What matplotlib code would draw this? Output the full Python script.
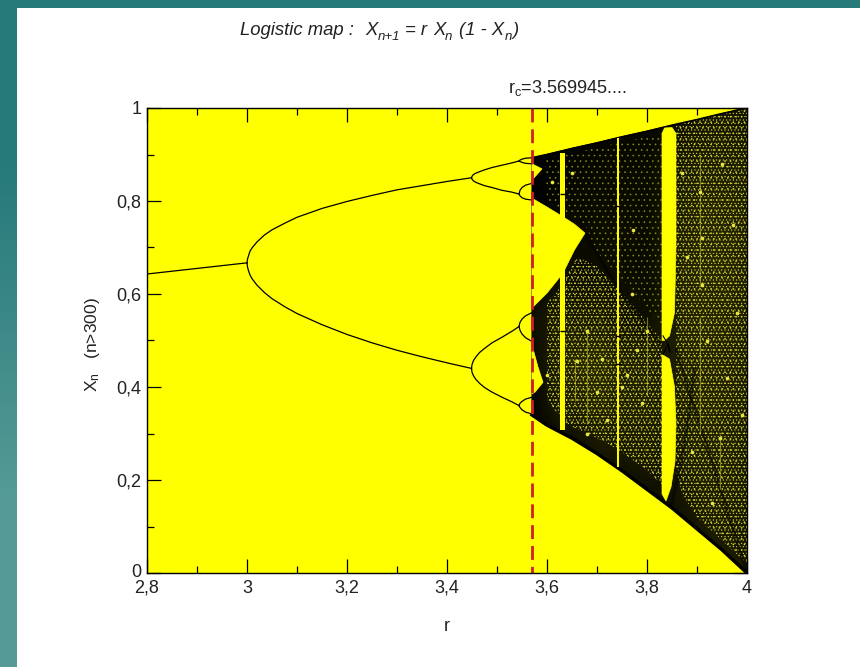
import numpy as np
import matplotlib
matplotlib.use('Agg')
import matplotlib.pyplot as plt
from matplotlib.colors import LinearSegmentedColormap
from matplotlib.patches import Polygon, Rectangle
from matplotlib.ticker import MultipleLocator, FixedLocator, FixedFormatter
from matplotlib.transforms import ScaledTranslation

plt.rcParams['font.family'] = ['Liberation Sans', 'DejaVu Sans']
plt.rcParams['mathtext.fontset'] = 'custom'
plt.rcParams['mathtext.rm'] = 'Liberation Sans'
plt.rcParams['mathtext.it'] = 'Liberation Sans:italic'
plt.rcParams['hatch.linewidth'] = 0.4

# period 1 and 2 branches
r_fixed = [2.8, 2.9, 3.0]
x_fixed = [0.643, 0.655, 0.667]
r_p2 = [3.0, 3.001, 3.003, 3.006, 3.01, 3.02, 3.035, 3.05, 3.075, 3.1, 3.15, 3.2, 3.25, 3.3, 3.35, 3.4, 3.449]
x_p2_up = [0.667, 0.675, 0.682, 0.692, 0.699, 0.712, 0.727, 0.738, 0.752, 0.765, 0.784, 0.799, 0.812, 0.824, 0.833, 0.842, 0.850]
x_p2_lo = [0.667, 0.658, 0.650, 0.641, 0.633, 0.619, 0.603, 0.590, 0.573, 0.558, 0.534, 0.513, 0.495, 0.479, 0.465, 0.452, 0.440]

# period 4 branches
r_p4 = [3.449, 3.450, 3.453, 3.458, 3.465, 3.475, 3.49, 3.51, 3.53, 3.544]
x_p4_a = [0.850, 0.853, 0.857, 0.860, 0.863, 0.867, 0.872, 0.877, 0.882, 0.886]
x_p4_b = [0.850, 0.847, 0.843, 0.840, 0.837, 0.833, 0.829, 0.823, 0.819, 0.815]
x_p4_c = [0.440, 0.448, 0.457, 0.465, 0.474, 0.483, 0.495, 0.507, 0.520, 0.530]
x_p4_d = [0.440, 0.432, 0.424, 0.416, 0.408, 0.399, 0.389, 0.378, 0.368, 0.360]

# period 8 loops
r_p8 = [3.544, 3.546, 3.55, 3.557, 3.57]
x_p8 = [
    [0.886, 0.888, 0.890, 0.892, 0.893],
    [0.886, 0.885, 0.883, 0.881, 0.880],
    [0.815, 0.823, 0.829, 0.834, 0.838],
    [0.815, 0.811, 0.807, 0.804, 0.802],
    [0.530, 0.539, 0.546, 0.553, 0.560],
    [0.530, 0.522, 0.514, 0.506, 0.498],
    [0.360, 0.365, 0.369, 0.374, 0.378],
    [0.360, 0.356, 0.351, 0.346, 0.342],
]

# edges of the chaotic band
r_env = [3.57, 3.6, 3.65, 3.7, 3.75, 3.8, 3.85, 3.9, 3.95, 4.0]
x_env_up = [0.893, 0.900, 0.913, 0.925, 0.938, 0.950, 0.963, 0.975, 0.988, 1.0]
x_env_lo = [0.340, 0.318, 0.290, 0.257, 0.220, 0.180, 0.140, 0.095, 0.050, 0.0]

# yellow holes left open inside the band
wedge_main = [(3.57, 0.806), (3.6, 0.787), (3.632, 0.766), (3.655, 0.750), (3.676, 0.731),
              (3.655, 0.695), (3.632, 0.645), (3.6, 0.602), (3.57, 0.570)]
wedge_low = [(3.57, 0.490), (3.582, 0.443), (3.592, 0.410), (3.576, 0.389), (3.57, 0.385)]
wedge_top = [(3.57, 0.880), (3.59, 0.869), (3.57, 0.845)]

# periodic windows
win1_r = [3.626, 3.636]
win1_x = [0.307, 0.903]
win2_r = [3.739, 3.744]
win2_x = [0.228, 0.935]
win3_upper = [(3.83, 0.500), (3.83, 0.945), (3.835, 0.957), (3.85, 0.958), (3.858, 0.945),
              (3.858, 0.700), (3.855, 0.560), (3.845, 0.510), (3.835, 0.500)]
win3_lower = [(3.83, 0.470), (3.83, 0.170), (3.838, 0.155), (3.848, 0.185), (3.856, 0.240),
              (3.858, 0.320), (3.855, 0.400), (3.845, 0.460)]

# black marks crossing the windows
tick_r = [3.631, 3.631, 3.7415, 3.7415, 3.7415]
tick_x = [0.815, 0.520, 0.790, 0.510, 0.450]
fork_r = [3.832, 3.842, 3.846, 3.842, 3.832]
fork_x = [0.510, 0.492, 0.475, 0.492, 0.470]

# how dense the yellow specks look, read on a coarse grid
dens_r = [3.57, 3.60, 3.63, 3.67, 3.71, 3.75, 3.80, 3.84, 3.88, 3.93, 3.97, 4.0]
dens_x = [0.0, 0.15, 0.25, 0.35, 0.45, 0.55, 0.65, 0.75, 0.85, 1.0]
dens_0 = [0, 0, 0, 0, 0, 0, 0, 0.05, 0.12, 0.22, 0.28, 0.25]
dens_1 = [0, 0, 0, 0, 0, 0.05, 0.12, 0.15, 0.22, 0.30, 0.28, 0.25]
dens_2 = [0, 0, 0.02, 0.12, 0.22, 0.22, 0.25, 0.20, 0.28, 0.32, 0.30, 0.25]
dens_3 = [0.02, 0.16, 0.28, 0.30, 0.35, 0.30, 0.30, 0.25, 0.32, 0.36, 0.32, 0.28]
dens_4 = [0.10, 0.22, 0.35, 0.40, 0.42, 0.32, 0.30, 0.25, 0.34, 0.35, 0.32, 0.28]
dens_5 = [0.15, 0.22, 0.28, 0.25, 0.25, 0.18, 0.14, 0.25, 0.34, 0.36, 0.34, 0.28]
dens_6 = [0.02, 0.08, 0.15, 0.10, 0.12, 0.12, 0.10, 0.25, 0.34, 0.38, 0.36, 0.30]
dens_7 = [0.02, 0.03, 0.10, 0.10, 0.12, 0.12, 0.10, 0.25, 0.32, 0.38, 0.36, 0.30]
dens_8 = [0, 0.03, 0.06, 0.08, 0.10, 0.10, 0.10, 0.20, 0.28, 0.32, 0.30, 0.28]
dens_9 = [0, 0, 0.02, 0.03, 0.04, 0.05, 0.05, 0.08, 0.15, 0.22, 0.22, 0.20]

# outlines of the zones where specks show
speck_lower = [(3.60, 0.58), (3.60, 0.37), (3.64, 0.32), (3.70, 0.29), (3.75, 0.26), (3.80, 0.22), (3.83, 0.19),
               (3.83, 0.50), (3.76, 0.59), (3.70, 0.66), (3.66, 0.68), (3.63, 0.62)]
speck_right = [(3.858, 0.97), (4.0, 1.0), (4.0, 0.02), (3.95, 0.07), (3.90, 0.12), (3.87, 0.17), (3.858, 0.22)]
speck_upper = [(3.595, 0.89), (3.83, 0.945), (3.83, 0.53), (3.76, 0.62), (3.70, 0.69), (3.676, 0.75), (3.60, 0.80)]

# brighter spots and streaks
spot_r = [3.772, 3.972, 3.91, 3.91, 3.905, 3.945, 3.93, 3.66, 3.68, 3.70, 3.72, 3.76, 3.79, 3.88, 3.87,
          3.95, 3.98, 3.65, 3.61, 3.60, 3.77, 3.80, 3.96, 3.92, 3.89, 3.99, 3.68, 3.71, 3.75, 3.78]
spot_x = [0.738, 0.748, 0.720, 0.620, 0.820, 0.290, 0.150, 0.455, 0.520, 0.390, 0.330, 0.425, 0.365, 0.680, 0.860,
          0.880, 0.560, 0.860, 0.840, 0.425, 0.600, 0.520, 0.420, 0.500, 0.260, 0.340, 0.300, 0.460, 0.400, 0.480]
streak_r = [3.905, 3.905, 3.945, 3.68, 3.80, 3.655]
streak_lo = [0.30, 0.62, 0.18, 0.32, 0.38, 0.37]
streak_hi = [0.55, 0.90, 0.30, 0.52, 0.55, 0.46]

# darker curves running through the band
dark_1_r = [3.676, 3.72, 3.77, 3.83]
dark_1_x = [0.731, 0.650, 0.570, 0.490]
dark_2_r = [3.858, 3.89, 3.93, 3.97, 4.0]
dark_2_x = [0.480, 0.370, 0.240, 0.100, 0.0]
dark_3_r = [3.85, 3.87, 3.885, 3.895]
dark_3_x = [0.150, 0.250, 0.350, 0.440]

xticks = [2.8, 3.0, 3.2, 3.4, 3.6, 3.8, 4.0]
xlabels = ['2,8', '3', '3,2', '3,4', '3,6', '3,8', '4']
yticks = [0, 0.2, 0.4, 0.6, 0.8, 1.0]
ylabels = ['0', '0,2', '0,4', '0,6', '0,8', '1']

W, H = 860, 667
INK = '#222222'
fig = plt.figure(figsize=(W / 100, H / 100), dpi=100, facecolor='white')

# slide background
bg = fig.add_axes([0, 0, 17 / W, 1])
bg.imshow([[0.0], [1.0]], aspect='auto', interpolation='bilinear',
          cmap=LinearSegmentedColormap.from_list('teal', ['#267a7a', '#559a96']))
bg.axis('off')
fig.add_artist(Rectangle((0, 1 - 8 / H), 1, 8 / H, transform=fig.transFigure, fc='#267a7a', ec='none'))

ax = fig.add_axes([147 / W, 1 - 573 / H, 600 / W, 465 / H])
ax.set_facecolor('#ffff00')
ax.set_xlim(2.8, 4.0)
ax.set_ylim(0, 1)

# chaotic band
band_pts = list(zip(r_env, x_env_up)) + list(zip(r_env[::-1], x_env_lo[::-1]))
band = Polygon(band_pts, closed=True, fc='black', ec='black', lw=0.8, zorder=2)
ax.add_patch(band)

density = np.array([dens_0, dens_1, dens_2, dens_3, dens_4, dens_5, dens_6, dens_7, dens_8, dens_9])
cmap = LinearSegmentedColormap.from_list('speck', ['#000000', '#ffff00'])
mesh = ax.pcolormesh(dens_r, dens_x, density * 0.4, shading='gouraud', cmap=cmap, vmin=0, vmax=1, zorder=3)
mesh.set_clip_path(band)

# overlaid dot patterns of different pitch, so the specks do not line up
for pts, patterns, tone in ((speck_lower, ('...', '.....'), '#d8d838'), (speck_right, ('...', '.....'), '#d8d838'),
                            (speck_upper, ('...',), '#8c8c20')):
    for pattern in patterns:
        ax.add_patch(Polygon(pts, closed=True, fc='none', ec=tone, lw=0, hatch=pattern, zorder=4))

ax.plot(dark_1_r, dark_1_x, color='black', lw=2, alpha=0.45, zorder=5)
ax.plot(dark_2_r, dark_2_x, color='black', lw=2, alpha=0.45, zorder=5)
ax.plot(dark_3_r, dark_3_x, color='black', lw=2, alpha=0.45, zorder=5)
ax.plot(r_env, x_env_lo, color='black', lw=2.5, zorder=5)
ax.plot(r_env, x_env_up, color='black', lw=1.2, zorder=5)

ax.vlines(streak_r, streak_lo, streak_hi, color='#d8d830', lw=0.8, alpha=0.5, zorder=6)
ax.scatter(spot_r, spot_x, s=7, color='#e8e840', lw=0, zorder=6)

# yellow holes and windows
for pts in (wedge_main, wedge_low, wedge_top, win3_upper, win3_lower):
    ax.add_patch(Polygon(pts, closed=True, fc='#ffff00', ec='#ffff00', lw=0.5, zorder=7))
ax.fill_between(win1_r, win1_x[0], win1_x[1], color='#ffff00', lw=0, zorder=7)
ax.fill_between(win2_r, win2_x[0], win2_x[1], color='#ffff00', lw=0, zorder=7)
ax.plot(tick_r, tick_x, ls='none', marker='_', ms=4, color='black', zorder=8)
ax.plot(fork_r, fork_x, color='black', lw=0.8, zorder=8)

# periodic branches
for r_vals, x_vals in ((r_fixed, x_fixed), (r_p2, x_p2_up), (r_p2, x_p2_lo)):
    ax.plot(r_vals, x_vals, color='black', lw=0.9, zorder=8)
for series in (x_p4_a, x_p4_b, x_p4_c, x_p4_d):
    ax.plot(r_p4, series, color='black', lw=0.9, zorder=8)
for series in x_p8:
    ax.plot(r_p8, series, color='black', lw=0.9, zorder=8)

ax.plot([3.57, 3.57], [1, 0], color='#cf1f2d', lw=2, dashes=(5, 2.5), zorder=9)

ax.xaxis.set_major_locator(FixedLocator(xticks))
ax.xaxis.set_major_formatter(FixedFormatter(xlabels))
ax.yaxis.set_major_locator(FixedLocator(yticks))
ax.yaxis.set_major_formatter(FixedFormatter(ylabels))
ax.xaxis.set_minor_locator(MultipleLocator(0.1))
ax.yaxis.set_minor_locator(MultipleLocator(0.1))
ax.tick_params(which='major', direction='in', top=True, right=True, length=10, width=0.9,
               labelsize=13, pad=4, labelcolor=INK)
ax.tick_params(axis='x', which='major', pad=5)
ax.tick_params(which='minor', direction='in', top=True, right=True, length=5, width=0.9)
ax.set_axisbelow(False)
for side in ax.spines.values():
    side.set_linewidth(1)
    side.set_zorder(10)

# the 0 sits just above the 2,8
zero = ax.get_yticklabels()[0]
zero.set_transform(zero.get_transform() + ScaledTranslation(0, 2 / 72, fig.dpi_scale_trans))

# title is set piece by piece, mathtext spreads it too wide
title_size = 13.3
sub_size = 9.5
for px, txt in ((240, 'Logistic map :'), (365, 'X'), (405, '= r'), (433, 'X'), (459, '(1 - X'), (513, ')')):
    fig.text(px / W, 1 - 35 / H, txt, fontsize=title_size, style='italic', color=INK)
for px, txt in ((378, 'n+1'), (445, 'n'), (505, 'n')):
    fig.text(px / W, 1 - 40 / H, txt, fontsize=sub_size, style='italic', color=INK)

fig.text(508 / W, 1 - 93 / H, r'$\mathregular{r_c}$=3.569945....', fontsize=13, color=INK)
fig.text(447 / W, 1 - 631 / H, 'r', fontsize=13, color=INK, ha='center')
fig.text(92 / W, 1 - 345 / H, r'$\mathregular{X_n}$   (n>300)', fontsize=12.5, color=INK, rotation=90,
         ha='center', va='center')

fig.savefig('out.png', dpi=100)
